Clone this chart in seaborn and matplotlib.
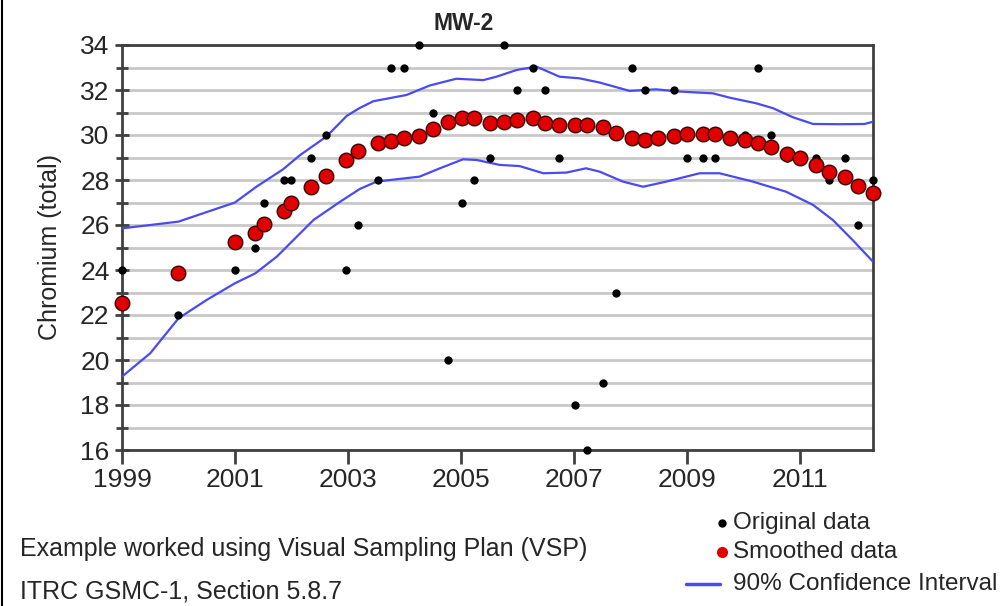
#!/usr/bin/env python
# -*- coding: utf-8 -*-
"""MW-2 chromium trend with smoothed data and 90% confidence band"""

import pandas as pd
import seaborn as sns
import matplotlib.pyplot as plt
from matplotlib.lines import Line2D
from matplotlib.ticker import MultipleLocator

# sample dates (decimal years)
years = [1999.0, 2000.0, 2001.0, 2001.36, 2001.51, 2001.87, 2002.0, 2002.34, 2002.62,
         2002.96, 2003.18, 2003.53, 2003.76, 2003.99, 2004.26, 2004.51, 2004.78, 2005.02,
         2005.24, 2005.52, 2005.76, 2006.0, 2006.27, 2006.5, 2006.74, 2007.02, 2007.24,
         2007.52, 2007.75, 2008.03, 2008.27, 2008.5, 2008.78, 2009.0, 2009.29, 2009.51,
         2009.76, 2010.03, 2010.27, 2010.5, 2010.78, 2011.01, 2011.29, 2011.52, 2011.8,
         2012.03, 2012.3]
original = [24, 22, 24, 25, 27, 28, 28, 29, 30,
            24, 26, 28, 33, 33, 34, 31, 20, 27,
            28, 29, 34, 32, 33, 32, 29, 18, 16,
            19, 23, 33, 32, 30, 32, 29, 29, 29,
            30, 30, 33, 30, 29, 29, 29, 28, 29,
            26, 28]
smoothed = [22.52, 23.88, 25.24, 25.66, 26.04, 26.64, 27.0, 27.7, 28.18,
            28.89, 29.27, 29.63, 29.75, 29.88, 29.96, 30.27, 30.56, 30.74,
            30.74, 30.55, 30.6, 30.67, 30.74, 30.55, 30.44, 30.44, 30.44,
            30.37, 30.07, 29.85, 29.78, 29.88, 29.97, 30.04, 30.04, 30.04,
            29.88, 29.78, 29.63, 29.45, 29.16, 28.99, 28.67, 28.37, 28.12,
            27.73, 27.41]

# 90% confidence interval
upper_years = [1999.0, 2000.0, 2001.0, 2001.38, 2001.85, 2002.15, 2002.62, 2002.98,
               2003.21, 2003.45, 2004.04, 2004.45, 2004.92, 2005.4, 2005.63, 2005.99,
               2006.34, 2006.75, 2007.1, 2007.46, 2007.99, 2008.46, 2008.88, 2009.47,
               2009.76, 2010.23, 2010.53, 2010.88, 2011.24, 2011.71, 2012.15, 2012.3]
upper = [25.85, 26.15, 27.0, 27.7, 28.47, 29.1, 29.93, 30.85,
         31.2, 31.5, 31.78, 32.2, 32.5, 32.44, 32.59, 32.89,
         33.04, 32.59, 32.52, 32.33, 31.96, 32.03, 31.93, 31.85,
         31.66, 31.41, 31.19, 30.79, 30.49, 30.48, 30.49, 30.59]
lower_years = [1999.0, 1999.5, 2000.0, 2000.5, 2001.0, 2001.36, 2001.74, 2001.92,
               2002.39, 2002.86, 2003.21, 2003.51, 2004.27, 2004.63, 2005.04, 2005.28,
               2005.69, 2006.04, 2006.46, 2006.87, 2007.22, 2007.46, 2007.87, 2008.23,
               2008.64, 2009.23, 2009.58, 2010.17, 2010.76, 2011.24, 2011.59, 2011.94,
               2012.3]
lower = [19.26, 20.3, 21.85, 22.67, 23.41, 23.85, 24.59, 25.04,
         26.22, 27.03, 27.6, 27.93, 28.15, 28.52, 28.92, 28.89,
         28.67, 28.62, 28.3, 28.33, 28.52, 28.37, 27.93, 27.7,
         27.93, 28.3, 28.3, 27.93, 27.48, 26.89, 26.22, 25.33,
         24.37]

df = pd.DataFrame({'year': years, 'original': original, 'smoothed': smoothed})

sns.set_theme(style='white')
plt.rcParams['font.family'] = ['Liberation Sans', 'DejaVu Sans']

fig = plt.figure(figsize=(10.05, 6.06), dpi=100)
ax = fig.add_axes([122 / 1005, 1 - 450 / 606, 751 / 1005, 405 / 606])

blue = '#4a4af0'
sns.lineplot(x=upper_years, y=upper, ax=ax, color=blue, lw=1.6, sort=False, estimator=None, zorder=3)
sns.lineplot(x=lower_years, y=lower, ax=ax, color=blue, lw=1.6, sort=False, estimator=None, zorder=3)
sns.scatterplot(data=df, x='year', y='original', ax=ax, color='black', marker='o', s=36,
                edgecolor='black', linewidth=0, zorder=4, clip_on=False)
sns.scatterplot(data=df, x='year', y='smoothed', ax=ax, color='#e00000', s=110,
                edgecolor='#3a0000', linewidth=1.0, zorder=5, clip_on=False)

ax.set_xlim(1999, 2012.3)
ax.set_ylim(16, 34)
ax.set_xticks(range(1999, 2012, 2))
ax.yaxis.set_major_locator(MultipleLocator(2))
ax.yaxis.set_minor_locator(MultipleLocator(1))
ax.grid(axis='y', which='both', color='#c8c8c8', lw=2)
ax.grid(axis='x', visible=False)
ax.set_axisbelow(True)

for side in ['left', 'bottom', 'top', 'right']:
    ax.spines[side].set_color('#404040')
    ax.spines[side].set_linewidth(2)
    ax.spines[side].set_visible(True)

ax.tick_params(axis='y', which='both', direction='inout', length=10, width=2,
               color='#404040', left=True, labelsize=19, pad=4)
ax.tick_params(axis='y', which='minor', length=8)
ax.tick_params(axis='x', direction='out', length=10, width=2, color='#404040',
               bottom=True, labelsize=19, pad=3)

ax.set_xlabel('')
ax.set_ylabel('Chromium (total)', fontsize=18, labelpad=13)
ax.text(0.455, 1.025, 'MW-2', transform=ax.transAxes, ha='center', va='bottom',
        fontsize=16.5, fontweight='bold')

# footnotes
fig.text(20 / 1005, 1 - 549 / 606, 'Example worked using Visual Sampling Plan (VSP)',
         fontsize=18, va='center', ha='left')
fig.text(20 / 1005, 1 - 591 / 606, 'ITRC GSMC-1, Section 5.8.7',
         fontsize=18, va='center', ha='left')

# legend drawn in figure pixels
def fy(py):
    return 1 - py / 606

fig.add_artist(Line2D([722 / 1005], [fy(523)], marker='o', color='black', ms=5, lw=0))
fig.add_artist(Line2D([722 / 1005], [fy(552)], marker='o', color='#e00000', ms=7, lw=0))
fig.add_artist(Line2D([686 / 1005, 720 / 1005], [fy(584), fy(584)], color=blue, lw=2.5))
for py, label in [(523, 'Original data'), (552, 'Smoothed data'), (584, '90% Confidence Interval')]:
    fig.text(733 / 1005, fy(py), label, fontsize=17.5, va='center', ha='left')

# frame line on the left edge
fig.add_artist(Line2D([0.002, 0.002], [0, 1], color='black', lw=1.5))

plt.savefig('out.png', dpi=100)
plt.close()
